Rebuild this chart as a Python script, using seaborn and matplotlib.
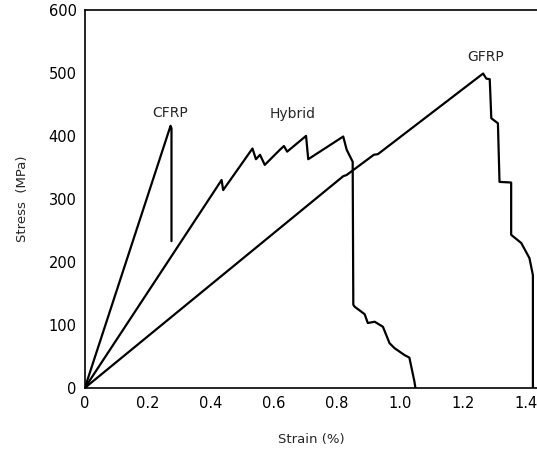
import pandas as pd
import matplotlib
matplotlib.use('Agg')
import matplotlib.pyplot as plt
import seaborn as sns

# Кривые напряжение-деформация
cfrp_strain = [0, 0.272, 0.275, 0.275]
cfrp_stress = [0, 416, 412, 233]

hybrid_strain = [0, 0.434, 0.439, 0.532, 0.543, 0.556, 0.571, 0.619, 0.632, 0.642,
                 0.702, 0.709, 0.820, 0.831, 0.850, 0.852, 0.856, 0.888, 0.898, 0.920,
                 0.946, 0.967, 0.983, 1.015, 1.030, 1.046, 1.049]
hybrid_stress = [0, 330, 314, 380, 363, 370, 354, 378, 384, 375,
                 400, 363, 399, 378, 359, 132, 129, 117, 103, 105,
                 97, 71, 63, 52, 48, 10, 0]

gfrp_strain = [0, 0.820, 0.831, 0.917, 0.930, 1.264, 1.274, 1.285, 1.290, 1.311,
               1.316, 1.353, 1.353, 1.385, 1.411, 1.422, 1.422]
gfrp_stress = [0, 336, 338, 370, 371, 499, 491, 490, 428, 420,
               327, 326, 243, 230, 206, 179, 0]

labels = ['CFRP', 'Hybrid', 'GFRP']
label_pos = [(0.27, 437), (0.659, 435), (1.271, 525)]

xticks = [0, 0.2, 0.4, 0.6, 0.8, 1.0, 1.2, 1.4]
xtick_labels = ['0', '0.2', '0.4', '0.6', '0.8', '1.0', '1.2', '1.4']
yticks = [0, 100, 200, 300, 400, 500, 600]

curves = pd.concat([
    pd.DataFrame({'strain': cfrp_strain, 'stress': cfrp_stress, 'material': 'CFRP'}),
    pd.DataFrame({'strain': hybrid_strain, 'stress': hybrid_stress, 'material': 'Hybrid'}),
    pd.DataFrame({'strain': gfrp_strain, 'stress': gfrp_stress, 'material': 'GFRP'}),
])

sns.set_style('white')
plt.rcParams['font.family'] = ['DejaVu Sans']

fig = plt.figure(figsize=(5.37, 4.5), dpi=100)
ax = fig.add_axes([0.158, 0.138, 0.842, 0.84])

for name in labels:
    sub = curves[curves['material'] == name]
    sns.lineplot(data=sub, x='strain', y='stress', sort=False, estimator=None,
                 color='black', linewidth=1.6, ax=ax)

for name, (x, y) in zip(labels, label_pos):
    ax.text(x, y, name, ha='center', va='center', fontsize=10)

ax.set_xlim(0, 1.435)
ax.set_ylim(0, 600)
ax.set_xticks(xticks)
ax.set_xticklabels(xtick_labels)
ax.set_yticks(yticks)
ax.tick_params(direction='in', length=5, width=1, labelsize=10.5, colors='black', pad=6)
ax.set_xlabel('Strain (%)', fontsize=9.5, labelpad=16)
ax.set_ylabel('Stress  (MPa)', fontsize=9.5, labelpad=14)

for side in ['left', 'bottom', 'top']:
    ax.spines[side].set_color('black')
    ax.spines[side].set_linewidth(1.2)
ax.spines['right'].set_visible(False)

fig.savefig('out.png', dpi=100)
